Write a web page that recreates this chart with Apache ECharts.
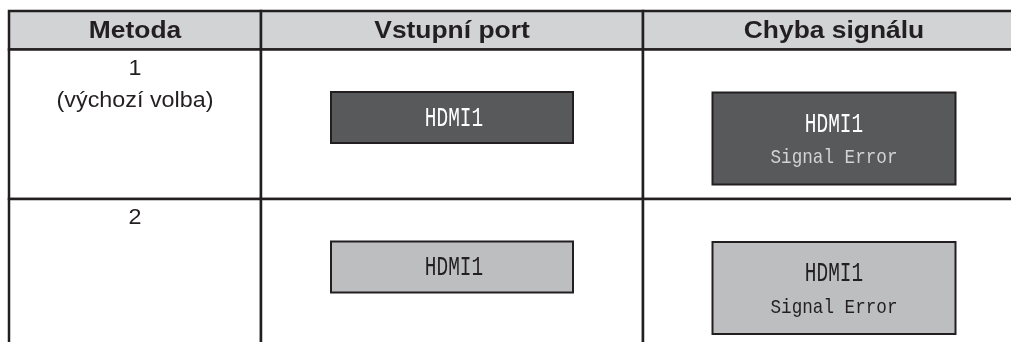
<!DOCTYPE html>
<html>
<head>
<meta charset="utf-8">
<script src="https://cdn.jsdelivr.net/npm/echarts@6/dist/echarts.min.js"></script>
<style>
html,body{margin:0;padding:0;background:#fff;}
#chart{width:1011px;height:342px;}
</style>
</head>
<body>
<div id="chart"></div>
<script>
// ---- data ----
const headers = ['Metoda', 'Vstupní port', 'Chyba signálu'];
const methodLabels = [['1', '(výchozí volba)'], ['2']];
const portLabels = ['HDMI1', 'HDMI1'];
const errorTitles = ['HDMI1', 'HDMI1'];
const errorMessages = ['Signal Error', 'Signal Error'];
const boxShades = ['dark', 'light'];

// ---- layout (axis units = px) ----
const colEdges = [0, 252, 634, 1016];
const rowEdges = [0, 38.5, 188, 338];
const LINE = '#231f20';
const shadeStyle = {
  dark: { fill: '#58595b', title: '#ffffff', msg: '#d1d3d4' },
  light: { fill: '#bcbec0', title: '#231f20', msg: '#231f20' }
};

const cellData = [];
for (let r = 0; r < 3; r++) for (let c = 0; c < 3; c++) cellData.push([c, r]);
const boxData = [];
boxShades.forEach((s, i) => { boxData.push([1, i + 1]); boxData.push([2, i + 1]); });

function cellRect(api, c, r) {
  const p0 = api.coord([colEdges[c], rowEdges[r]]);
  const p1 = api.coord([colEdges[c + 1], rowEdges[r + 1]]);
  return { x: p0[0], y: p0[1], w: p1[0] - p0[0], h: p1[1] - p0[1] };
}

function txt(x, y, text, font, fill, sx) {
  return {
    type: 'text', x: x, y: y, scaleX: sx || 1,
    style: { text: text, x: 0, y: 0, font: font, fill: fill, align: 'center', verticalAlign: 'middle' }
  };
}

const chart = echarts.init(document.getElementById('chart'), null, { renderer: 'canvas' });
chart.setOption({
  animation: false,
  grid: { left: 9, top: 11, width: 1002, height: 331 },
  xAxis: { type: 'value', min: 0, max: 1002, show: false },
  yAxis: { type: 'value', min: 0, max: 331, inverse: true, show: false },
  series: [
    {
      type: 'custom',
      clip: false,
      data: cellData,
      renderItem: function (params, api) {
        const c = api.value(0), r = api.value(1);
        const b = cellRect(api, c, r);
        const children = [{
          type: 'rect',
          shape: { x: b.x, y: b.y, width: b.w, height: b.h },
          style: { fill: r === 0 ? '#d1d3d4' : '#ffffff', stroke: LINE, lineWidth: 2.5 }
        }];
        const cx = b.x + b.w / 2;
        if (r === 0) {
          children.push(txt(cx, b.y + b.h / 2 + 1, headers[c], 'bold 24px "Liberation Sans", Arial, sans-serif', LINE, 1.1));
        } else if (c === 0) {
          methodLabels[r - 1].forEach((t, k) => {
            children.push(txt(cx, b.y + 19 + k * 32, t, '22px "Liberation Sans", Arial, sans-serif', LINE, 1.06));
          });
        }
        return { type: 'group', children: children };
      }
    },
    {
      type: 'custom',
      clip: false,
      data: boxData,
      z: 5,
      renderItem: function (params, api) {
        const c = api.value(0), r = api.value(1);
        const b = cellRect(api, c, r);
        const st = shadeStyle[boxShades[r - 1]];
        const cx = b.x + b.w / 2;
        const children = [];
        if (c === 1) {
          const w = 242, h = 51, cy = b.y + 68;
          children.push({ type: 'rect', shape: { x: cx - w / 2, y: cy - h / 2, width: w, height: h },
            style: { fill: st.fill, stroke: LINE, lineWidth: 2 } });
          children.push(txt(cx + 2, cy + 1, portLabels[r - 1], '27px "Liberation Mono", monospace', st.title, 0.72));
        } else {
          const w = 243, h = 92, cy = b.y + 89;
          children.push({ type: 'rect', shape: { x: cx - w / 2, y: cy - h / 2, width: w, height: h },
            style: { fill: st.fill, stroke: LINE, lineWidth: 2 } });
          children.push(txt(cx, cy - 14, errorTitles[r - 1], '27px "Liberation Mono", monospace', st.title, 0.72));
          children.push(txt(cx, cy + 19, errorMessages[r - 1], '21px "Liberation Mono", monospace', st.msg, 0.84));
        }
        return { type: 'group', children: children };
      }
    }
  ]
});
</script>
</body>
</html>
